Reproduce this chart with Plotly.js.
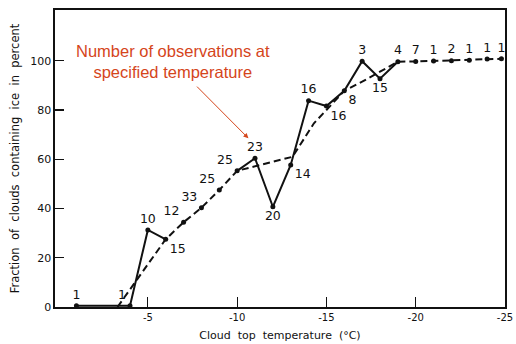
<!DOCTYPE html>
<html>
<head>
<meta charset="utf-8">
<script src="https://cdn.plot.ly/plotly-3.0.1.min.js"></script>
<style>html,body{margin:0;padding:0;background:#fff;}#chart{width:516px;height:344px;}</style>
</head>
<body>
<div id="chart"></div>
<script>
// Observed points: cloud top temperature (°C), fraction containing ice (%), number of observations
const temps   = [-1, -4, -5, -6, -7, -8, -9, -10, -11, -12, -13, -14, -15, -16, -17, -18, -19, -20, -21, -22, -23, -24, -24.8];
const fracIce = [0.5, 0.5, 31.3, 27.5, 34.4, 40.3, 47.5, 55.3, 60.4, 40.7, 57.7, 83.8, 81.6, 87.8, 99.8, 92.7, 99.6, 99.7, 99.9, 100.0, 100.2, 100.7, 100.8];
const nObs    = ['1', '1', '10', '15', '12', '33', '25', '25', '23', '20', '14', '16', '16', '8', '3', '15', '4', '7', '1', '2', '1', '1', '1'];
const labelPos = ['top center','top left','top center','bottom right','top left','top left','top left','top left',
  'top center','bottom center','bottom right','top center','bottom right','bottom right','top center','bottom center',
  'top center','top center','top center','top center','top center','top center','top center'];

// Smoothed (dashed) curve
const smoothT = [-3.3, -6, -7, -8, -9, -10, -13.1, -14.3, -15, -16, -17, -18, -18.8, -19, -20, -21, -22, -23, -24, -24.8];
const smoothY = [0, 27.5, 34.4, 40.3, 47.5, 55.3, 61.0, 74.6, 80.0, 87.8, 91.5, 95.5, 98.9, 99.6, 99.7, 99.9, 100.0, 100.2, 100.7, 100.8];

// Solid polyline segments (indices into the observed arrays)
const solidSegments = [[0, 3], [7, 16]];
const solidX = [], solidY = [];
solidSegments.forEach((seg, k) => {
  if (k > 0) { solidX.push(null); solidY.push(null); }
  for (let i = seg[0]; i <= seg[1]; i++) { solidX.push(temps[i]); solidY.push(fracIce[i]); }
});

const ink = '#111';
const traces = [
  {x: smoothT, y: smoothY, mode: 'lines', line: {color: ink, width: 2, dash: '7px,4px'}, hoverinfo: 'skip', cliponaxis: false},
  {x: solidX, y: solidY, mode: 'lines', line: {color: ink, width: 2}, connectgaps: false, cliponaxis: false},
  {x: temps, y: fracIce, mode: 'markers+text', marker: {color: ink, size: 5}, text: nObs, textposition: labelPos,
   textfont: {family: 'DejaVu Sans', size: 12.5, color: ink}, cliponaxis: false}
];

const axisFont = {family: 'DejaVu Sans', size: 10, color: ink};
const layout = {
  width: 516, height: 344,
  margin: {l: 55, r: 11, t: 10, b: 37},
  paper_bgcolor: '#fff', plot_bgcolor: '#fff',
  showlegend: false,
  font: {family: 'DejaVu Sans', color: ink},
  xaxis: {
    range: [0.2, -25], tickvals: [-5, -10, -15, -20, -25], ticktext: ['-5', '-10', '-15', '-20', '-25'],
    ticks: 'inside', ticklen: 10, tickwidth: 1.2, tickcolor: ink,
    showline: true, linecolor: ink, linewidth: 1.6, mirror: true, showgrid: false, zeroline: false,
    tickfont: axisFont,
    title: {text: 'Cloud\u00a0 top\u00a0 temperature\u00a0 (°C)', font: {family: 'DejaVu Sans', size: 11, color: ink}, standoff: 10}
  },
  yaxis: {
    range: [0, 120.6], tickvals: [0, 20, 40, 60, 80, 100],
    ticks: 'inside', ticklen: 9, tickwidth: 1.2, tickcolor: ink,
    showline: true, linecolor: ink, linewidth: 1.6, mirror: true, showgrid: false, zeroline: false,
    tickfont: {family: 'DejaVu Sans', size: 11, color: ink},
    title: {text: 'Fraction\u00a0 of\u00a0 clouds\u00a0 containing\u00a0 ice\u00a0 in\u00a0 percent', font: {family: 'DejaVu Sans', size: 11.5, color: ink}, standoff: 8}
  },
  annotations: [
    {x: -6.4, y: 99.5, xref: 'x', yref: 'y', showarrow: false, xanchor: 'center', yanchor: 'middle',
     text: 'Number of observations at<br>specified temperature', align: 'center',
     font: {family: 'Liberation Sans', size: 16.5, color: '#d5451b'}},
    {x: -10.63, y: 68.5, ax: -7.67, ay: 90.1, xref: 'x', yref: 'y', axref: 'x', ayref: 'y', text: '',
     showarrow: true, arrowhead: 2, arrowsize: 1, arrowwidth: 1, arrowcolor: '#d5451b'}
  ]
};

Plotly.newPlot('chart', traces, layout, {displayModeBar: false, staticPlot: true});
</script>
</body>
</html>
